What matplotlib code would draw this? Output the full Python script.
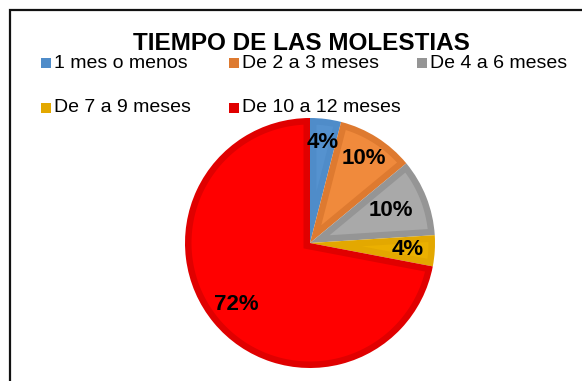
import matplotlib
matplotlib.use("Agg")
import numpy as np
import matplotlib.pyplot as plt
from matplotlib.patches import Rectangle, Polygon

plt.rcParams['font.family'] = ['Liberation Sans', 'DejaVu Sans']

# tiempo de las molestias (%)
categorias = ["1 mes o menos", "De 2 a 3 meses", "De 4 a 6 meses",
              "De 7 a 9 meses", "De 10 a 12 meses"]
porcentajes = [4, 10, 10, 4, 72]
relleno = ["#5592CF", "#F08A3C", "#A9A9A9", "#EBB000", "#FF0000"]
borde = ["#4F8CC9", "#DE7A30", "#959595", "#E3A800", "#E00000"]
dist_etiqueta = [0.81, 0.80, 0.70, 0.78, 0.77]

W, H = 582, 381
fig = plt.figure(figsize=(W / 100, H / 100), dpi=100)

# pie centred at (310, 243) px, radius 125 px
cx, cy, r = 310, 243, 125
ax = fig.add_axes([(cx - r) / W, (H - cy - r) / H, 2 * r / W, 2 * r / H])
wedges, textos = ax.pie(porcentajes, colors=borde, startangle=90,
                        counterclock=False, radius=1,
                        wedgeprops=dict(linewidth=0))


def interior(t1, t2, R, d):
    # slice shrunk by d on every side (lighter fill inside the rim)
    a = np.deg2rad(t1)
    b = np.deg2rad(t2)
    mid = (a + b) / 2
    half = (b - a) / 2
    k = d / np.sin(half)
    vertice = [k * np.cos(mid), k * np.sin(mid)]
    ri = R - d
    delta = np.arctan2(d, np.sqrt(ri ** 2 - d ** 2))
    arco = np.linspace(a + delta, b - delta, 120)
    pts = [vertice] + [[ri * np.cos(t), ri * np.sin(t)] for t in arco]
    return np.array(pts)


for w, fc in zip(wedges, relleno):
    ax.add_patch(Polygon(interior(w.theta1, w.theta2, 1, 0.052),
                         closed=True, facecolor=fc, edgecolor='none'))

for w, p, d in zip(wedges, porcentajes, dist_etiqueta):
    ang = np.deg2rad((w.theta1 + w.theta2) / 2)
    ax.text(d * np.cos(ang), d * np.sin(ang), f"{p}%", ha='center',
            va='center', fontsize=16, fontweight='bold', color='black')
ax.set_xlim(-1, 1)
ax.set_ylim(-1, 1)
ax.set_aspect('equal')
ax.axis('off')

# chart frame
fig.add_artist(Rectangle((10 / W, -0.1), 1.2, 1 - 10 / H + 0.1,
                         transform=fig.transFigure, fill=False,
                         edgecolor='#111111', linewidth=1.6))

fig.text(301 / W, 1 - 44 / H, "TIEMPO DE LAS MOLESTIAS", ha='center',
         va='center', fontsize=17.5, fontweight='bold')

# legend, 3 columns
col_x = [41, 229, 417]
fila_y = [63, 108]
for i, (cat, c) in enumerate(zip(categorias, borde)):
    x = col_x[i % 3]
    y = fila_y[i // 3]
    fig.add_artist(Rectangle((x / W, 1 - (y + 5) / H), 10 / W, 10 / H,
                             transform=fig.transFigure, facecolor=c,
                             edgecolor='none'))
    fig.text((x + 13) / W, 1 - y / H, cat, ha='left', va='center',
             fontsize=14)

fig.savefig("out.png", dpi=100)
